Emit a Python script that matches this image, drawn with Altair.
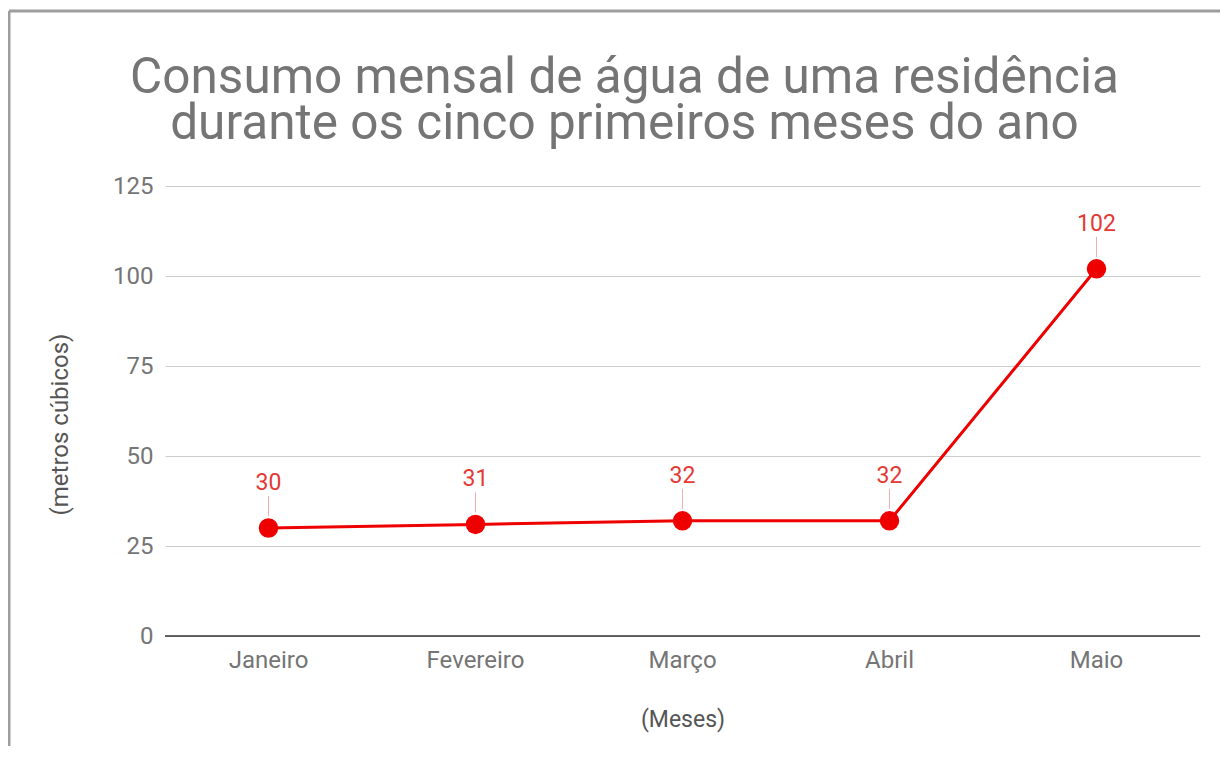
import altair as alt
import pandas as pd

months = ["Janeiro", "Fevereiro", "Março", "Abril", "Maio"]
values = [30, 31, 32, 32, 102]
y_ticks = [0, 25, 50, 75, 100, 125]

df = pd.DataFrame({"mes": months, "consumo": values})

FONT = "Roboto"
RED = "#ee0000"
GRAY = "#757575"

x = alt.X("mes:N", sort=months, title="(Meses)",
          scale=alt.Scale(paddingInner=0, paddingOuter=0),
          axis=alt.Axis(labelAngle=0, labelFontSize=24, labelColor=GRAY,
                        labelFont=FONT, labelPadding=12, ticks=False, domain=False,
                        grid=False,
                        titleFontSize=23, titleColor="#555555", titleFont=FONT,
                        titleFontWeight="normal", titlePadding=36))
y = alt.Y("consumo:Q", title="(metros cúbicos)",
          scale=alt.Scale(domain=[0, 125], nice=False),
          axis=alt.Axis(values=y_ticks, labelFontSize=24, labelColor=GRAY,
                        labelFont=FONT, labelPadding=12, ticks=False, domain=False,
                        gridColor="#cccccc", gridWidth=1,
                        titleFontSize=24, titleColor="#555555", titleFont=FONT,
                        titleFontWeight="normal", titlePadding=40, titleY=238))

base = alt.Chart(df)

line = base.mark_line(color=RED, strokeWidth=3).encode(x=x, y=y)
pts = base.mark_circle(color=RED, size=380, opacity=1).encode(x=x, y=y)
leader = base.mark_rule(color="#f3b0b0", strokeWidth=1, yOffset=-32, y2Offset=-12).encode(
    x=x, y=y, y2="consumo:Q")
labels = base.mark_text(color="#e53935", fontSize=23, font=FONT, dy=-45).encode(
    x=x, y=y, text="consumo:Q")

zero = alt.Chart(pd.DataFrame({"z": [0]})).mark_rule(color="#333333", strokeWidth=1.5).encode(
    y=alt.Y("z:Q", scale=alt.Scale(domain=[0, 125], nice=False)))

frame_left = alt.Chart(pd.DataFrame({"a": [0]})).mark_rule(color="#9e9e9e", strokeWidth=3).encode(
    x=alt.value(-156), y=alt.value(-175), y2=alt.value(600))
frame_top = alt.Chart(pd.DataFrame({"a": [0]})).mark_rule(color="#9e9e9e", strokeWidth=3).encode(
    x=alt.value(-156), x2=alt.value(1070), y=alt.value(-175))

chart = alt.layer(frame_left, frame_top, leader, line, zero, pts, labels).properties(
    width=1035, height=450,
    autosize=alt.AutoSizeParams(type="none"),
    padding={"left": 157, "top": 178, "right": 20, "bottom": 110},
    background="white",
    title=alt.TitleParams(
        ["Consumo mensal de água de uma residência",
         "durante os cinco primeiros meses do ano"],
        font=FONT, fontSize=49.5, fontWeight="normal", color=GRAY,
        lineHeight=46, anchor="middle", frame="group", dx=-58, offset=0, dy=140),
).configure_view(stroke=None)

chart.save("out.html", embed_options={"renderer": "svg", "actions": False})
